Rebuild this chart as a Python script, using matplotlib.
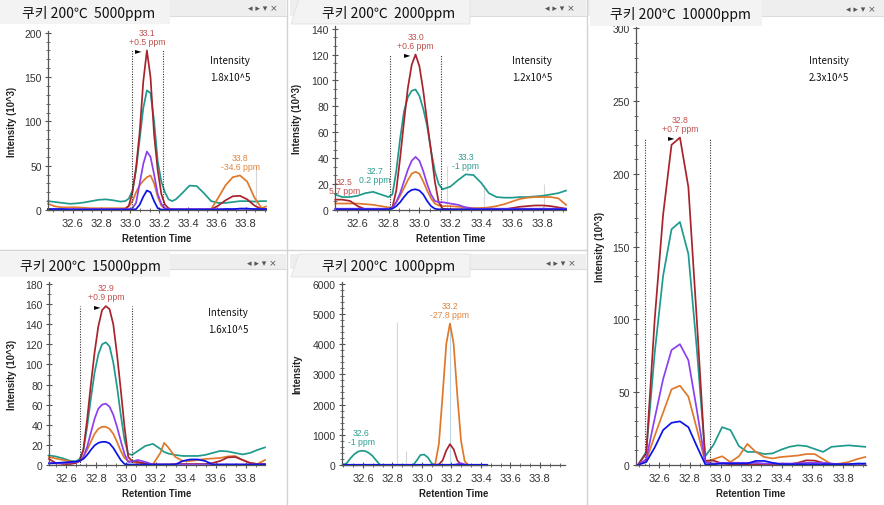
import matplotlib
matplotlib.use('Agg')
import matplotlib.pyplot as plt
from matplotlib.ticker import MultipleLocator, FormatStrFormatter
from matplotlib.patches import Rectangle, Polygon

plt.rcParams['font.family'] = ['Liberation Sans', 'Noto Sans CJK KR', 'DejaVu Sans']

# ---------------- data (retention time / intensity) ----------------
# 5000 ppm  (10^3)
rt_5000 = [32.43, 32.48, 32.53, 32.58, 32.63, 32.68, 32.73, 32.78, 32.83, 32.88, 32.93,
           32.965, 32.99, 33.015, 33.04, 33.065, 33.09, 33.115, 33.14, 33.165, 33.19, 33.215, 33.24, 33.265, 33.29, 33.315,
           33.36, 33.41, 33.46, 33.51, 33.56, 33.61, 33.66, 33.71, 33.76, 33.81, 33.86, 33.91, 33.94]
red_5000 = [0.5, 0.5, 0.5, 0.5, 0.5, 0.5, 0.5, 0.5, 0.5, 0.5, 0.5,
            1, 5, 20, 48, 88, 145, 180, 150, 85, 45, 18, 6, 2, 0.5, 0.5,
            0.5, 0.5, 0.5, 0.5, 0.5, 5, 11, 15.5, 16, 12, 5, 1, 1]
teal_5000 = [10, 9, 8, 7, 7.5, 8.5, 10, 11.5, 12, 11, 9.5,
             10, 13, 22, 45, 80, 115, 135, 132, 100, 55, 32, 20, 12, 10, 12,
             19, 27.5, 27, 19, 10, 8, 8, 9, 10, 10, 9.5, 10, 10]
purple_5000 = [1, 1, 1, 1, 1, 1, 1, 1, 1, 1, 1,
               1, 1, 2, 8, 30, 52, 66, 60, 40, 18, 7, 2, 1, 1, 1,
               1, 1, 1, 1, 1, 1, 1, 1, 1.5, 1.5, 1, 1, 1]
orange_5000 = [7, 4, 3, 3, 3, 2.5, 2, 2, 2, 2, 2,
               2, 4, 10, 20, 28, 33, 37, 39, 30, 15, 5, 1.5, 0.5, 0.5, 0.5,
               0.5, 0.5, 0.5, 0.5, 1, 14, 28, 37, 39, 32, 14, 2, 4]
blue_5000 = [1, 1, 1, 0.5, 0.5, 0.5, 0.5, 0.5, 0.5, 0.5, 0.5,
             0.5, 0.5, 0.5, 1, 6, 15, 22, 20, 10, 2, 0.5, 0.5, 0.5, 0.5, 0.5,
             0.5, 0.5, 0.5, 0.5, 0.5, 0.5, 1, 1, 1.5, 1.5, 1, 1, 1]

# 2000 ppm  (10^3)
rt_2000 = [32.455, 32.5, 32.55, 32.6, 32.65, 32.7, 32.75, 32.8,
           32.825, 32.85, 32.875, 32.9, 32.925, 32.95, 32.975, 33.0, 33.025, 33.05, 33.075, 33.1, 33.125, 33.15,
           33.2, 33.25, 33.3, 33.35, 33.4, 33.45, 33.5, 33.55, 33.6, 33.65, 33.7, 33.75, 33.8, 33.85, 33.9, 33.95]
red_2000 = [8, 8, 7, 3, 0.5, 0.5, 0.5, 0.5,
            2, 15, 40, 68, 94, 112, 120, 111, 92, 68, 46, 22, 6, 1,
            0.5, 0.5, 0.5, 0.5, 0.5, 0.5, 0.5, 0.5, 1.5, 2.5, 3, 3.5, 3.5, 3, 2, 1]
teal_2000 = [12, 10, 10, 11, 13, 14, 12, 10,
             12, 30, 55, 76, 87, 92, 93, 88, 78, 65, 46, 30, 20, 16,
             18, 23, 27.5, 27, 21, 13, 10, 9.5, 9.5, 10, 10, 10.5, 11, 12, 13, 15]
purple_2000 = [1, 1, 1, 1, 1, 1, 1, 1,
               2, 6, 13, 22, 31, 38, 41, 38, 30, 20, 12, 7, 6, 6,
               5, 4, 2, 1, 1, 1, 1, 1, 1, 1, 1, 1, 1, 1, 1, 1]
orange_2000 = [5, 5, 5, 5, 4.5, 4, 3, 2,
               2, 6, 11, 17, 23, 28, 29.5, 28, 22, 15, 9, 5, 3.5, 3,
               3, 2.5, 2, 1.5, 1.5, 2, 3, 4.5, 6.5, 8.5, 9.5, 10, 10, 10, 9, 4]
blue_2000 = [0.5, 0.5, 0.5, 0.5, 0.5, 0.5, 0.5, 0.5,
             1, 3, 6, 10, 13.5, 15.5, 16, 15, 12, 7, 3, 1, 0.5, 0.5,
             0.5, 0.5, 0.5, 0.5, 0.5, 0.5, 0.5, 0.5, 0.5, 0.5, 0.5, 0.5, 0.5, 0.5, 0.5, 0.5]

# 10000 ppm  (10^3)
rt_10000 = [32.46, 32.515, 32.57, 32.625, 32.68, 32.735, 32.79, 32.845, 32.9, 32.955,
            33.01, 33.065, 33.12, 33.175, 33.23, 33.285, 33.34, 33.395, 33.45, 33.505,
            33.56, 33.615, 33.67, 33.725, 33.78, 33.835, 33.89, 33.945]
red_10000 = [0, 8, 100, 172, 220, 225, 191, 100, 3, 3,
             1, 0.5, 0.5, 0.5, 0.5, 0.5, 0.5, 0.5, 0.5, 1.5,
             3.2, 3, 1.5, 0.5, 0.5, 0.5, 0.5, 0.5]
teal_10000 = [0, 9, 77, 130, 162, 167, 145, 80, 6, 14,
              26, 24, 13, 9, 9, 7.5, 8, 10.5, 12.5, 13.5,
              13, 11, 9, 12.5, 13, 13.5, 13, 12.5]
purple_10000 = [0, 4, 32, 59, 79, 83, 72, 38, 2, 1,
                1.5, 1.5, 1.5, 1.5, 1.5, 1, 1, 1, 1, 1,
                1.5, 1.5, 1.5, 1, 0.5, 0.5, 0.5, 0.5]
orange_10000 = [0, 3, 20, 36, 52, 54.5, 47, 25, 2, 4,
                6, 2, 6, 14.5, 9, 5.5, 4.5, 5.5, 6, 6.5,
                7.5, 7.5, 4, 0.5, 1, 2, 4, 5.5]
blue_10000 = [0, 2, 12, 24, 29, 30, 26, 13, 0.5, 0.5,
              1, 1, 1, 1, 2.8, 2.8, 1.5, 0.5, 0.5, 0.5,
              0.5, 0.5, 0.5, 0.5, 0.5, 0.5, 1, 1]

# 15000 ppm  (10^3)
rt_15000 = [32.485, 32.53, 32.58, 32.63,
            32.665, 32.69, 32.715, 32.74, 32.765, 32.79, 32.815, 32.84, 32.865, 32.89, 32.915, 32.94, 32.965, 32.99, 33.015, 33.04,
            33.08, 33.13, 33.18, 33.23, 33.255, 33.28, 33.33, 33.38, 33.43, 33.48, 33.53, 33.58, 33.63, 33.68, 33.73, 33.78, 33.83, 33.88, 33.93]
red_15000 = [6, 2, 1, 1,
             2, 4, 15, 45, 80, 112, 138, 154, 158, 155, 140, 110, 75, 38, 8, 4,
             3, 1.5, 0.5, 0.5, 0.5, 0.5, 1, 1, 1, 1, 1, 2, 4, 7.5, 8, 5, 2, 1, 1]
teal_15000 = [9.5, 8.5, 6.5, 4,
              3.5, 6, 15, 38, 66, 92, 110, 120, 122, 118, 102, 78, 50, 25, 11, 10,
              14, 19, 21, 16, 13, 11.5, 10, 9, 9, 9, 10, 12, 14, 13.5, 12, 10.5, 12, 15, 17.5]
purple_15000 = [2, 1.5, 2, 2.5,
                3, 4, 8, 18, 32, 46, 56, 60, 61, 58, 50, 38, 24, 11, 3, 3.5,
                5, 3, 0.5, 0.5, 0.5, 0.5, 0.5, 0.5, 0.5, 0.5, 0.5, 0.5, 0.5, 0.5, 0.5, 0.5, 0.5, 0.5, 0.5]
orange_15000 = [8, 6.5, 5, 3.5,
                3, 4, 8, 15, 23, 31, 36, 38, 38, 36, 31, 23, 14, 7, 4, 3,
                2, 1.5, 0.5, 12, 22, 18, 8, 4, 4, 5, 6, 6.5, 7, 8.5, 9, 5, 2, 1, 5]
blue_15000 = [1.5, 2, 2.5, 3,
              3.5, 4, 6, 10, 15, 19.5, 22, 23, 23, 21.5, 17, 11, 5, 1, 0.5, 0.5,
              0.5, 0.5, 0.5, 0.5, 0.5, 0.5, 0.5, 4, 5.5, 5.5, 4, 0.5, 0.5, 0.5, 0.5, 0.5, 0.5, 0.5, 0.5]

# 1000 ppm  (raw counts)
rt_1000 = [32.465, 32.49, 32.515, 32.54, 32.565, 32.59, 32.615, 32.64, 32.665, 32.69,
           32.715, 32.74, 32.765, 32.79, 32.815, 32.84, 32.865, 32.89, 32.915, 32.94,
           32.965, 32.99, 33.015, 33.04, 33.065, 33.09, 33.115, 33.14, 33.165, 33.19,
           33.215, 33.24, 33.265, 33.29, 33.315, 33.34, 33.365, 33.39, 33.415, 33.44]
red_1000 = [0, 0, 0, 0, 0, 0, 0, 0, 0, 0,
            0, 0, 0, 0, 0, 0, 0, 0, 0, 0,
            0, 0, 0, 0, 0, 0, 20, 150, 480, 690,
            520, 150, 10, 0, 0, 0, 0, 0, 0, 0]
teal_1000 = [0, 60, 220, 350, 440, 470, 460, 400, 300, 150,
             10, 0, 0, 0, 0, 0, 0, 0, 0, 0,
             150, 330, 345, 250, 60, 0, 0, 0, 0, 0,
             0, 0, 0, 0, 0, 0, 0, 0, 0, 0]
purple_1000 = [0, 0, 0, 0, 0, 0, 0, 0, 0, 0,
               0, 0, 0, 0, 0, 0, 0, 0, 0, 0,
               0, 0, 0, 0, 0, 0, 0, 0, 0, 0,
               0, 30, 60, 20, 0, 0, 0, 0, 0, 0]
orange_1000 = [0, 0, 0, 0, 0, 0, 0, 0, 0, 0,
               0, 0, 0, 0, 0, 0, 0, 0, 0, 0,
               0, 0, 0, 0, 0, 30, 700, 2300, 4000, 4680,
               4000, 2300, 800, 120, 0, 0, 0, 0, 0, 0]
blue_1000 = [0] * 40

# integration bounds / reference marks
bounds_5000 = [33.012, 33.227]
bounds_2000 = [32.808, 33.137]
bounds_10000 = [32.508, 32.932]
bounds_15000 = [32.693, 33.042]
faint_5000, faint_top_5000 = [33.87], [50]
faint_2000, faint_top_2000 = [33.18, 33.42, 33.81], [34, 19, 20]
faint_1000, faint_top_1000 = [32.83, 32.89], [4720, 450]

titles = ['쿠키 200℃  5000ppm', '쿠키 200℃  2000ppm', '쿠키 200℃  10000ppm',
          '쿠키 200℃  15000ppm', '쿠키 200℃  1000ppm']
totals = ['1.8x10^5', '1.2x10^5', '2.3x10^5', '1.6x10^5', None]

colors = {'red': '#a8232c', 'teal': '#1f9a8c', 'purple': '#8b3ff0',
          'orange': '#e0782a', 'blue': '#0a14e6'}
label_colors = {'red': '#c0504d', 'teal': '#2e9e92', 'orange': '#e0843c'}

W, H = 884, 506
fig = plt.figure(figsize=(W / 100, H / 100), dpi=100)


def box(l, t, r, b):
    return [l / W, 1 - b / H, (r - l) / W, (b - t) / H]


panels = [
    dict(rt=rt_5000, red=red_5000, teal=teal_5000, purple=purple_5000, orange=orange_5000, blue=blue_5000,
         box=(48, 32, 266, 211), xlim=(32.43, 33.94), ylim=(0, 202), ymaj=50, ymin=10,
         ylabel='Intensity (10^3)', ylab_x=12, bounds=bounds_5000,
         faint=faint_5000, faint_top=faint_top_5000, total_xy=(230, 61),
         labels=[('red', 32.9, 33.3, '33.1\n+0.5 ppm', 0, 3.5, True),
                 ('orange', 33.5, 33.95, '33.8\n-34.6 ppm', 0, 3.5, False)]),
    dict(rt=rt_2000, red=red_2000, teal=teal_2000, purple=purple_2000, orange=orange_2000, blue=blue_2000,
         box=(335, 27, 566, 211), xlim=(32.453, 33.95), ylim=(0, 142), ymaj=20, ymin=20 / 3,
         ylabel='Intensity (10^3)', ylab_x=297, bounds=bounds_2000,
         faint=faint_2000, faint_top=faint_top_2000, total_xy=(532, 61),
         labels=[('red', 32.8, 33.2, '33.0\n+0.6 ppm', 0, 3.5, True),
                 ('teal', 33.2, 33.5, '33.3\n-1 ppm', 0, 3.5, False),
                 ('teal', 32.62, 32.78, '32.7\n0.2 ppm', 1.5, 5.5, False),
                 ('red', 32.49, 32.52, '32.5\n5.7 ppm', 1.5, 3, False)]),
    dict(rt=rt_10000, red=red_10000, teal=teal_10000, purple=purple_10000, orange=orange_10000, blue=blue_10000,
         box=(636, 28, 866, 466), xlim=(32.448, 33.95), ylim=(0, 301), ymaj=50, ymin=10,
         ylabel='Intensity (10^3)', ylab_x=600, bounds=bounds_10000,
         faint=[], faint_top=[], total_xy=(829, 61),
         labels=[('red', 32.5, 33.0, '32.8\n+0.7 ppm', 0, 3.5, True)]),
    dict(rt=rt_15000, red=red_15000, teal=teal_15000, purple=purple_15000, orange=orange_15000, blue=blue_15000,
         box=(49, 283, 265, 466), xlim=(32.485, 33.93), ylim=(0, 182), ymaj=20, ymin=10,
         ylabel='Intensity (10^3)', ylab_x=12, bounds=bounds_15000,
         faint=[], faint_top=[], total_xy=(228, 313),
         labels=[('red', 32.7, 33.0, '32.9\n+0.9 ppm', 0, 3.5, True)]),
    dict(rt=rt_1000, red=red_1000, teal=teal_1000, purple=purple_1000, orange=orange_1000, blue=blue_1000,
         box=(342, 283, 565, 466), xlim=(32.458, 33.97), ylim=(0, 6050), ymaj=1000, ymin=200,
         ylabel='Intensity', ylab_x=297, bounds=[],
         faint=faint_1000, faint_top=faint_top_1000, total_xy=None,
         labels=[('orange', 33.0, 33.4, '33.2\n-27.8 ppm', 0, 3.5, False),
                 ('teal', 32.45, 32.8, '32.6\n-1 ppm', 0, 3.5, False)]),
]

for k, p in enumerate(panels):
    l, t, r, b = p['box']
    ax = fig.add_axes(box(l, t, r, b))
    ax.set_facecolor('none')
    xs = p['rt']
    if p['faint']:
        ax.vlines(p['faint'], 0, p['faint_top'], colors='#d6d6d6', lw=0.8)
    if k == 4:
        # light reference at the orange apex
        i_top = p['orange'].index(max(p['orange']))
        ax.vlines([xs[i_top]], 0, max(p['orange']), colors='#bcd8ee', lw=0.8)
    for key in ('teal', 'orange', 'red', 'purple', 'blue'):
        lw = 1.6 if (k == 4 and key == 'blue') else 1.25
        ax.plot(xs, p[key], color=colors[key], lw=lw, clip_on=False, solid_joinstyle='round')
    if p['bounds']:
        ax.vlines(p['bounds'], 0, max(p['red']), colors='#333333', lw=0.8, linestyles=(0, (1, 1.3)))

    for key, lo, hi, text, dx, dy, tri in p['labels']:
        ys = p[key]
        idx = [i for i in range(len(xs)) if lo <= xs[i] <= hi]
        i = max(idx, key=lambda j: ys[j])
        ax.annotate(text, (xs[i], ys[i]), xytext=(dx, dy), textcoords='offset points',
                    ha='center', va='bottom', fontsize=6.2, color=label_colors[key], linespacing=1.0)
        if tri:
            ax.annotate('►', (xs[i], ys[i]), xytext=(-6, 0.5), textcoords='offset points',
                        ha='center', va='center', fontsize=6, color='black', family='DejaVu Sans')

    ax.set_xlim(*p['xlim'])
    ax.set_ylim(*p['ylim'])
    ax.xaxis.set_major_locator(MultipleLocator(0.2))
    ax.xaxis.set_minor_locator(MultipleLocator(0.2 / 3))
    ax.xaxis.set_major_formatter(FormatStrFormatter('%.1f'))
    ax.yaxis.set_major_locator(MultipleLocator(p['ymaj']))
    ax.yaxis.set_minor_locator(MultipleLocator(p['ymin']))
    for s in ('top', 'right'):
        ax.spines[s].set_visible(False)
    for s in ('left', 'bottom'):
        ax.spines[s].set_color('#555555')
        ax.spines[s].set_linewidth(0.9)
    ax.tick_params(which='major', direction='inout', length=5, width=0.8, color='#555555',
                   labelcolor='#333333')
    ax.tick_params(which='minor', direction='inout', length=2.5, width=0.6, color='#555555')
    ax.tick_params(axis='x', which='major', pad=3.5, labelsize=8)
    ax.tick_params(axis='y', which='major', pad=2, labelsize=7.5)

    ax.set_xlabel('Retention Time', fontsize=6.9, fontweight='bold', color='#222222')
    ax.xaxis.set_label_coords(0.5, -28 / (b - t))
    ax.xaxis.label.set_va('center')
    ax.set_ylabel(p['ylabel'], fontsize=6.9, fontweight='bold', color='#222222')
    ax.yaxis.set_label_coords((p['ylab_x'] - l) / (r - l), 0.5)
    ax.yaxis.label.set_va('center')

    if totals[k]:
        tx, ty = p['total_xy']
        fig.text(tx / W, 1 - ty / H, 'Intensity', ha='center', va='center', fontsize=7,
                 color='#111111', family=['Noto Sans CJK KR', 'DejaVu Sans'])
        fig.text(tx / W, 1 - (ty + 17) / H, totals[k], ha='center', va='center', fontsize=7,
                 color='#111111', family=['Noto Sans CJK KR', 'DejaVu Sans'])

# ---------------- window chrome (drawn on top) ----------------
deco = fig.add_axes([0, 0, 1, 1], zorder=10)
deco.set_xlim(0, W)
deco.set_ylim(H, 0)
deco.axis('off')
deco.patch.set_alpha(0)

# (strip left, strip right, strip top, strip bottom, tab left, tab right, tab bottom, slanted, title x, title y, ctrl x, ctrl y)
windows = [
    (0, 286, 0, 17, 0, 170, 25, False, 22, 13, 263, 8),
    (290, 586, 0, 17, 298, 470, 25, True, 322, 13, 560, 8),
    (588, 884, 0, 17, 590, 762, 27, False, 610, 14, 861, 9),
    (0, 286, 255, 270, 0, 170, 278, False, 20, 267, 262, 264),
    (290, 586, 255, 270, 298, 470, 278, True, 322, 267, 561, 264),
]
for (sl, sr, st, sb, tl, tr, tb, slant, ttx, tty, cx, cy), title in zip(windows, titles):
    deco.add_patch(Rectangle((sl, st), sr - sl, sb - st, facecolor='#eeeeee', edgecolor='none'))
    deco.plot([tr, sr], [sb, sb], color='#dcdcdc', lw=0.8)
    if slant:
        deco.add_patch(Polygon([(tl - 7, tb), (tl + 1, st), (tr, st), (tr, tb)],
                               closed=True, facecolor='#f3f3f3', edgecolor='#e2e2e2', lw=0.6))
    else:
        top = 0 if st == 0 else st - 2
        deco.add_patch(Rectangle((tl, top), tr - tl, tb - top, facecolor='#f3f3f3', edgecolor='none'))
    deco.text(ttx, tty, title, ha='left', va='center', fontsize=10, color='#111111',
              family=['Noto Sans CJK KR', 'DejaVu Sans'])
    deco.text(cx, cy, '◂ ▸ ▾ ×', ha='center', va='center', fontsize=6.5, color='#555555',
              family='DejaVu Sans')

# window borders
deco.plot([287, 287], [0, H], color='#d2d2d2', lw=1.0)
deco.plot([587, 587], [0, H], color='#d2d2d2', lw=1.0)
deco.plot([0, 587], [251, 251], color='#d2d2d2', lw=1.0)

fig.savefig('out.png', dpi=100)
